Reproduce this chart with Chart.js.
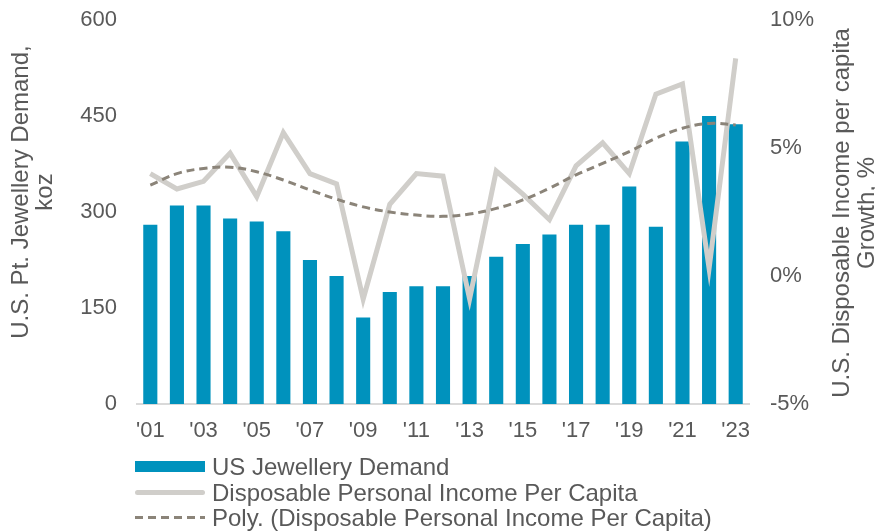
<!DOCTYPE html>
<html>
<head>
<meta charset="utf-8">
<script src="https://cdn.jsdelivr.net/npm/chart.js@4/dist/chart.umd.min.js"></script>
<style>
    html, body { margin: 0; padding: 0; background: #ffffff; }
    #wrap { position: relative; width: 875px; height: 532px; overflow: hidden; }
    #chart { position: absolute; left: 0; top: 0; }
    #legend {
        position: absolute; left: 135px; top: 454px;
        font-family: "Liberation Sans", Arial, sans-serif;
        font-size: 24px; color: #595959;
    }
    .row { display: flex; align-items: center; height: 25.5px; line-height: 25px; white-space: nowrap; }
    .swatch { width: 70px; margin-right: 7px; flex: none; }
</style>
</head>
<body>
<div id="wrap">
    <canvas id="chart" width="875" height="532"></canvas>
    <div id="legend"></div>
</div>
<script>
// Data
const years = ["'01", "'02", "'03", "'04", "'05", "'06", "'07", "'08", "'09", "'10", "'11", "'12",
    "'13", "'14", "'15", "'16", "'17", "'18", "'19", "'20", "'21", "'22", "'23"];
const jewelleryDemand = [280, 310, 310, 290, 285, 270, 225, 200, 135, 175, 184, 184,
    200, 230, 250, 265, 280, 280, 340, 277, 410, 450, 437];
const incomeGrowth = [4.0, 3.4, 3.7, 4.8, 3.1, 5.6, 4.0, 3.6, -0.9, 2.8, 4.0, 3.9,
    -0.9, 4.1, 3.2, 2.2, 4.3, 5.2, 4.0, 7.1, 7.5, 0.3, 8.5];
const incomeTrend = [3.55, 4.0, 4.2, 4.25, 4.07, 3.75, 3.36, 3.0, 2.7, 2.5, 2.38, 2.33,
    2.42, 2.64, 2.97, 3.43, 3.95, 4.4, 4.86, 5.38, 5.77, 5.96, 5.9];
const leftTicks = [0, 150, 300, 450, 600];
const rightTicks = [-5, 0, 5, 10];

const seriesNames = ['US Jewellery Demand', 'Disposable Personal Income Per Capita',
    'Poly. (Disposable Personal Income Per Capita)'];

const textColor = '#595959';
const fontFamily = '"Liberation Sans", Arial, sans-serif';

// Axis titles drawn rotated, two lines each
const axisTitles = {
    id: 'axisTitles',
    afterDraw(chart) {
        const ctx = chart.ctx;
        const drawTitle = (lines, x, y, gap) => {
            ctx.save();
            ctx.translate(x, y);
            ctx.rotate(-Math.PI / 2);
            ctx.fillStyle = textColor;
            ctx.font = '24px ' + fontFamily;
            ctx.textAlign = 'center';
            ctx.textBaseline = 'middle';
            lines.forEach((line, i) => ctx.fillText(line, 0, i * gap));
            ctx.restore();
        };
        drawTitle(['U.S. Pt. Jewellery Demand,', 'koz'], 21, 192, 24);
        drawTitle(['U.S. Disposable Income per capita', 'Growth, %'], 842, 213, 25);
    }
};

// fixed widths so the plot area lands where the original has it
const fitVertical = (width) => (scale) => {
    scale.width = width;
    scale.paddingTop = 0;
    scale.paddingBottom = 0;
};

const ctx = document.getElementById('chart').getContext('2d');
new Chart(ctx, {
    data: {
        labels: years,
        datasets: [{
            type: 'line',
            label: seriesNames[2],
            data: incomeTrend,
            yAxisID: 'y1',
            borderColor: '#8B8479',
            borderWidth: 3,
            borderDash: [8, 5],
            pointRadius: 0,
            tension: 0.4,
            order: 0
        }, {
            type: 'line',
            label: seriesNames[1],
            data: incomeGrowth,
            yAxisID: 'y1',
            borderColor: '#D0CECA',
            borderWidth: 5,
            pointRadius: 0,
            tension: 0,
            order: 1
        }, {
            type: 'bar',
            label: seriesNames[0],
            data: jewelleryDemand,
            yAxisID: 'y',
            backgroundColor: '#0092BD',
            barPercentage: 0.53,
            categoryPercentage: 1,
            order: 2
        }]
    },
    options: {
        responsive: false,
        animation: false,
        devicePixelRatio: 1,
        layout: { padding: { top: 20, left: 0, right: 0, bottom: 0 } },
        plugins: {
            legend: { display: false },
            tooltip: { enabled: false }
        },
        scales: {
            x: {
                grid: { display: false, drawTicks: false },
                border: { color: '#D9D9D9', width: 2 },
                ticks: {
                    autoSkip: false,
                    maxRotation: 0,
                    padding: 14,
                    color: textColor,
                    font: { family: fontFamily, size: 22 },
                    callback: (v, i) => (i % 2 === 0 ? years[i] : '')
                },
                afterFit: (scale) => { scale.height = 128; }
            },
            y: {
                position: 'left',
                min: leftTicks[0],
                max: leftTicks[leftTicks.length - 1],
                grid: { display: false, drawTicks: false },
                border: { display: false },
                afterBuildTicks: (scale) => { scale.ticks = leftTicks.map(v => ({ value: v })); },
                ticks: {
                    padding: 20,
                    color: textColor,
                    font: { family: fontFamily, size: 22 }
                },
                afterFit: fitVertical(137)
            },
            y1: {
                position: 'right',
                min: rightTicks[0],
                max: rightTicks[rightTicks.length - 1],
                grid: { display: false, drawTicks: false },
                border: { display: false },
                afterBuildTicks: (scale) => { scale.ticks = rightTicks.map(v => ({ value: v })); },
                ticks: {
                    padding: 21,
                    color: textColor,
                    font: { family: fontFamily, size: 22 },
                    callback: (v) => v + '%'
                },
                afterFit: fitVertical(126)
            }
        }
    },
    plugins: [axisTitles]
});

// Legend, one entry per row like the original
const legendEl = document.getElementById('legend');
const swatches = [
    'height:11px;background:#0092BD;',
    'height:5px;border-radius:3px;background:#D0CECA;',
    'height:3px;background:repeating-linear-gradient(90deg,#8B8479 0 8px,transparent 8px 13px);'
];
seriesNames.forEach((name, i) => {
    const row = document.createElement('div');
    row.className = 'row';
    row.innerHTML = '<div class="swatch" style="' + swatches[i] + '"></div><span>' + name + '</span>';
    legendEl.appendChild(row);
});
</script>
</body>
</html>
